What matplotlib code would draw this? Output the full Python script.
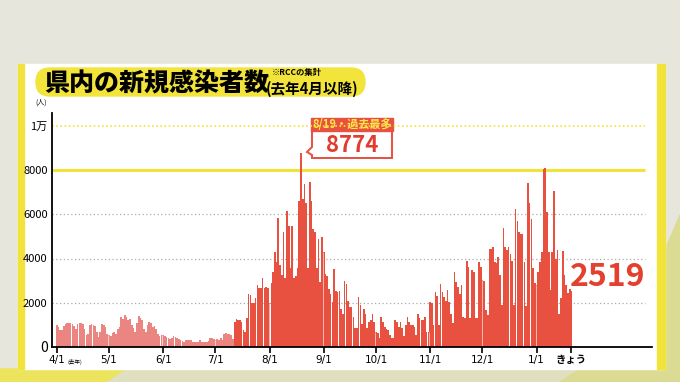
import numpy as np
import matplotlib
matplotlib.use('Agg')
import matplotlib.pyplot as plt
from matplotlib.patches import Rectangle, FancyBboxPatch, Polygon

# daily new cases, 4/1 (last year) .. today
apr = [1000, 900, 750, 750, 950, 1050, 1100, 1100, 1100, 1050, 950, 800, 1050, 1100, 1100,
       1050, 800, 550, 600, 1000, 1050, 1000, 950, 700, 450, 700, 1050, 1000, 900, 600]
may = [550, 500, 650, 700, 600, 800, 900, 1350, 1250, 1450, 1350, 1200, 1250, 1000, 850, 700,
       1100, 1400, 1300, 1200, 800, 700, 1000, 1150, 1100, 900, 950, 800, 600, 500, 550]
jun = [520, 500, 450, 400, 380, 420, 480, 470, 400, 350, 300, 250, 230, 300, 330,
       330, 320, 220, 220, 220, 230, 330, 230, 220, 210, 220, 250, 420, 400, 380]
jul = [330, 340, 300, 420, 300, 600, 620, 580, 600, 520, 350, 1150, 1250, 1200, 1200, 1150,
       750, 700, 1300, 2400, 2350, 2000, 2000, 2200, 2800, 2650, 2650, 3100, 2660, 2700, 2660]
aug = [2000, 2900, 3400, 4300, 3850, 5850, 3700, 3260, 5180, 3110, 6140, 5480, 3550, 5480, 3110,
       3200, 3550, 6590, 8774, 6700, 7350, 6500, 3550, 7450, 6590, 5330, 5200, 3550, 4880, 2960, 4960]
sep = [4300, 3300, 3200, 2600, 2400, 2030, 3510, 2550, 2470, 2550, 1730, 1500, 2990, 2850, 2100,
       1800, 1800, 1360, 840, 840, 2280, 1880, 1060, 1730, 1500, 840, 1140, 1200, 1480, 1140]
oct_ = [700, 650, 400, 1360, 1140, 920, 800, 770, 550, 400, 420, 1210, 1140, 920, 1140, 850,
        480, 1000, 1360, 1140, 990, 990, 920, 550, 1480, 1300, 1200, 1200, 1360, 700, 700]
nov = [2030, 1970, 1000, 2490, 2300, 1000, 2860, 2490, 2260, 2100, 2560, 2040, 1500, 1070, 3380,
       2930, 2710, 2410, 2780, 1370, 1300, 3900, 3600, 1300, 3460, 3380, 1300, 1300, 3830, 3600]
dec = [3010, 3000, 1670, 1450, 4440, 4440, 4500, 3850, 3800, 4070, 3260, 1920, 5400, 4500, 4370, 4500,
       4220, 3900, 1920, 6220, 5700, 5180, 5100, 5100, 3850, 1850, 7400, 6500, 5770, 3550, 2890]
jan = [2810, 3400, 3850, 4300, 8050, 8100, 6100, 4300, 2590, 4300, 7030, 4000, 4370, 1500, 2200,
       4340, 3260, 2810, 2440, 2600, 2519]

months = [apr, may, jun, jul, aug, sep, oct_, nov, dec, jan]
month_labels = ['4/1', '5/1', '6/1', '7/1', '8/1', '9/1', '10/1', '11/1', '12/1', '1/1']
today_label = 'きょう'
ytick_vals = [0, 2000, 4000, 6000, 8000, 10000]
ytick_labels = ['0', '2000', '4000', '6000', '8000', '1万']
peak_label = '8/19・過去最多'

values = np.concatenate(months)
days = np.arange(len(values))
month_starts = np.cumsum([0] + [len(m) for m in months[:-1]])
today = days[-1]
peak = int(np.argmax(values))
red_from = month_starts[3] + 11  # bars turn to the stronger red in mid July

RED = '#e8503f'
LIGHT = '#eb8582'
YEL = '#f2e33a'
JP = 'Noto Sans CJK JP'
NUM = ['Liberation Sans Narrow', 'DejaVu Sans']

fig = plt.figure(figsize=(6.8, 3.82), dpi=100)

# background / panel in pixel coordinates
bg = fig.add_axes([0, 0, 1, 1])
bg.set_xlim(0, 680)
bg.set_ylim(382, 0)
bg.axis('off')
bg.add_patch(Rectangle((0, 0), 680, 382, color='#e7e6dc'))
bg.add_patch(Rectangle((0, 369), 680, 13, color='#e0dfc0'))
bg.add_patch(Polygon([(0, 369), (125, 369), (105, 382), (0, 382)], color='#ece45c'))
bg.add_patch(Polygon([(665, 250), (680, 215), (680, 382), (560, 382), (580, 369), (665, 369)], color='#dcdb94'))
bg.add_patch(Rectangle((18, 64), 647, 305, color='white'))
bg.add_patch(Rectangle((18, 64), 6, 305, color=YEL))
bg.add_patch(Rectangle((657, 64), 8, 305, color=YEL))
bg.add_patch(FancyBboxPatch((36, 68), 329, 28, boxstyle='round,pad=0,rounding_size=14', color='#f3e43c'))
bg.text(44, 83, '県内の新規感染者数', fontsize=18, weight='heavy', family=JP, va='center', ha='left')
bg.text(272, 73, '※RCCの集計', fontsize=6, weight='bold', family=JP, va='center', ha='left')
bg.text(266, 89, '(去年4月以降)', fontsize=10.5, weight='bold', family=JP, va='center', ha='left')
bg.text(41, 103, '(人)', fontsize=5, family=JP, va='center', ha='center')
bg.text(75, 362, '(去年)', fontsize=4, family=JP, va='center', ha='center')

# main chart
ax = fig.add_axes([51.7 / 680, 1 - 347 / 382, (652 - 51.7) / 680, (347 - 113) / 382])
ax.patch.set_alpha(0)
xmin = -(56.7 - 51.7) / 1.745
ax.set_xlim(xmin, xmin + (652 - 51.7) / 1.745)
ax.set_ylim(0, 8000 * (347 - 113) / (347 - 170))
gx = (645 - 56.7) / 1.745
ax.hlines([2000, 4000, 6000], xmin, gx, colors='#aaaaaa', linestyles=(0, (1, 2)), lw=0.9, zorder=1)
ax.hlines(10000, xmin, gx, colors=YEL, linestyles=(0, (1, 1.5)), lw=1.2, zorder=1)
ax.hlines(8000, xmin, gx, colors=YEL, lw=2.2, zorder=1.5)

colors = [LIGHT if d < red_from else RED for d in days]
ax.bar(days, values, width=0.95, color=colors, linewidth=0, zorder=2)
sep_h = np.minimum(values[month_starts[1:]], values[month_starts[1:] - 1])
ax.vlines(month_starts[1:] - 0.5, 0, sep_h, colors='white', lw=0.6, alpha=0.7, zorder=2.5)

for s in ['top', 'right']:
    ax.spines[s].set_visible(False)
for s in ['left', 'bottom']:
    ax.spines[s].set_linewidth(1.3)

ax.set_yticks(ytick_vals)
ax.set_yticklabels(ytick_labels)
ax.tick_params(axis='y', length=0, pad=3)
for t in ax.get_yticklabels():
    t.set_family(NUM[:1] + [JP])
    t.set_fontsize(10 if t.get_text() == '0' else 8)

ax.set_xticks(list(month_starts) + [today])
ax.set_xticklabels(month_labels + [today_label])
ax.tick_params(axis='x', length=4, width=1.2, direction='out', pad=2)
for t in ax.get_xticklabels():
    if t.get_text() == today_label:
        t.set_family(JP)
        t.set_fontsize(7.5)
        t.set_weight('bold')
    else:
        t.set_family(NUM)
        t.set_fontsize(7.5)

# callout for the peak
px = 56.7 + peak * 1.745
bg.add_patch(Polygon([(312, 131), (392, 131), (392, 158), (312, 158), (312, 155),
                      (px + 6, 152), (312, 147)], closed=True, fc='white', ec=RED, lw=1.4, zorder=3))
bg.add_patch(Rectangle((311.3, 118), 81.4, 13, color=RED, zorder=4))
bg.text(352, 124.5, peak_label, fontsize=8, weight='bold', family=JP, color='#fde64c',
        ha='center', va='center', zorder=5)
bg.text(352, 145, f'{int(values[peak])}', fontsize=16, weight='bold', family=JP, color='#e23c2f',
        ha='center', va='center', zorder=5)

bg.text(608, 277, f'{int(values[-1])}', fontsize=23, weight='bold', family=JP, color='#e4402f',
        ha='center', va='center')

fig.savefig('out.png', dpi=100)
